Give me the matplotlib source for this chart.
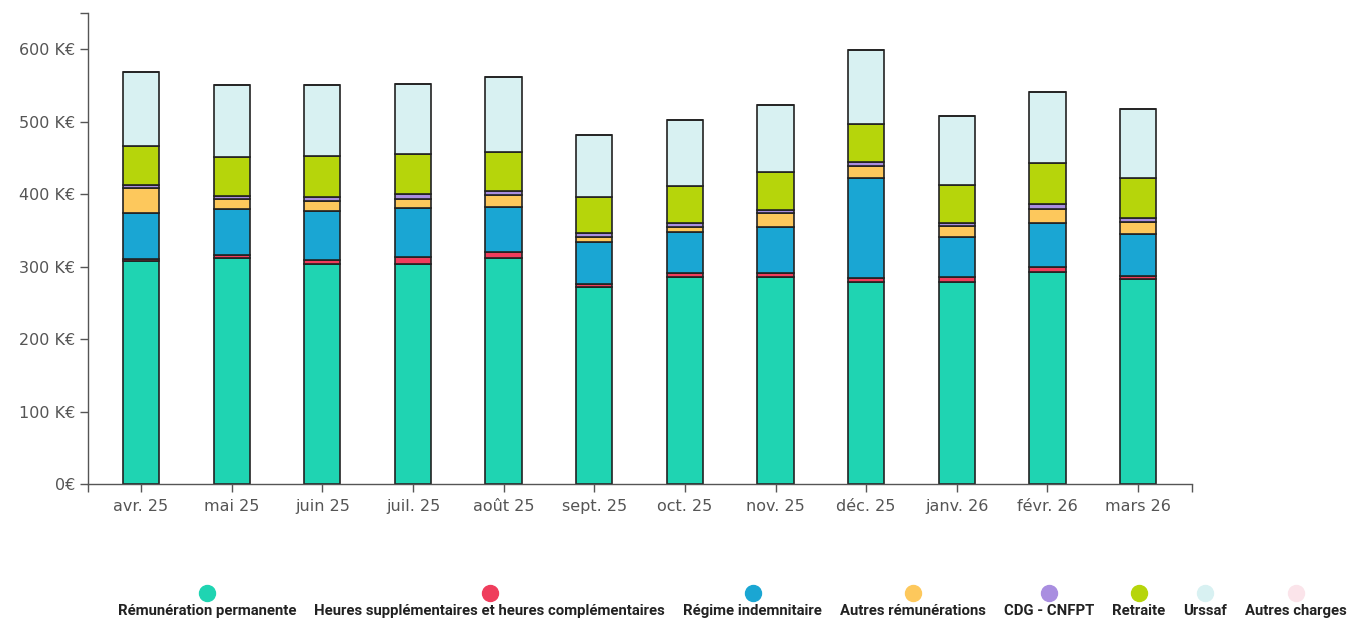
"""
Masse salariale mensuelle par nature de charge (barres empilées)
"""

import matplotlib
matplotlib.use('Agg')
import matplotlib.pyplot as plt
from matplotlib.lines import Line2D
import numpy as np

# mois affichés
MOIS = ['avr. 25', 'mai 25', 'juin 25', 'juil. 25', 'août 25', 'sept. 25',
        'oct. 25', 'nov. 25', 'déc. 25', 'janv. 26', 'févr. 26', 'mars 26']

# valeurs en K€
remuneration_permanente = [307.6, 311.7, 303.9, 303.0, 312.1, 272.2, 286.0, 286.0, 279.0, 279.0, 292.4, 282.3]
heures_supp = [2.7, 4.2, 5.1, 9.7, 8.3, 3.2, 4.6, 5.4, 5.6, 6.1, 6.5, 4.6]
regime_indemnitaire = [63.5, 63.4, 68.0, 68.0, 62.1, 58.8, 57.4, 62.6, 137.9, 56.0, 61.5, 57.9]
autres_remunerations = [34.5, 13.4, 13.8, 13.3, 15.7, 6.1, 6.9, 19.4, 16.5, 14.8, 19.8, 16.2]
cdg_cnfpt = [5.0, 5.0, 5.5, 5.6, 5.9, 5.5, 5.5, 4.5, 5.6, 4.5, 6.0, 5.5]
retraite = [53.8, 53.8, 56.5, 55.2, 54.2, 50.5, 50.6, 52.9, 52.9, 52.0, 57.0, 56.0]
urssaf = [102.0, 98.8, 97.5, 97.9, 103.7, 86.0, 91.1, 92.0, 101.1, 95.6, 97.9, 95.7]
autres_charges = [0, 0, 0, 0, 0, 0, 0, 0, 0, 0, 0, 0]

SERIES = [
    ('Rémunération permanente', remuneration_permanente, '#1fd4b2'),
    ('Heures supplémentaires et heures complémentaires', heures_supp, '#ef3d5c'),
    ('Régime indemnitaire', regime_indemnitaire, '#1aa6d3'),
    ('Autres rémunérations', autres_remunerations, '#fdc85c'),
    ('CDG - CNFPT', cdg_cnfpt, '#a98ee0'),
    ('Retraite', retraite, '#b6d50b'),
    ('Urssaf', urssaf, '#d8f1f2'),
    ('Autres charges', autres_charges, '#fbe4ea'),
]

W, H = 1359, 622


def main():
    fig = plt.figure(figsize=(W / 100, H / 100), dpi=100)
    ax = fig.add_axes([88 / W, 1 - 484 / H, (1192 - 88) / W, (484 - 13) / H])

    x = np.arange(len(MOIS))
    bottom = np.zeros(len(MOIS))
    for name, vals, color in SERIES:
        vals = np.array(vals, dtype=float)
        ax.bar(x, vals, width=0.4, bottom=bottom, color=color,
               edgecolor='#222222', linewidth=1.2, zorder=2)
        bottom += vals

    ax.set_ylim(0, 650)
    ax.set_xlim(-0.585, len(MOIS) - 1 + 0.595)
    ax.set_yticks(range(0, 601, 100))
    ax.set_yticklabels(['0€'] + [f'{v} K€' for v in range(100, 601, 100)])
    ax.set_xticks(x)
    ax.set_xticklabels(MOIS)
    # ticks de bord façon axe d3
    ax.set_yticks([650], minor=True)
    ax.set_xticks([-0.585, len(MOIS) - 1 + 0.595], minor=True)

    for s in ['top', 'right']:
        ax.spines[s].set_visible(False)
    for s in ['left', 'bottom']:
        ax.spines[s].set_color('#555555')
        ax.spines[s].set_linewidth(1.0)
    ax.tick_params(which='both', length=6, width=1.0, color='#555555',
                   labelcolor='#555555', labelsize=11.5)
    ax.tick_params(axis='y', pad=3)
    ax.tick_params(axis='x', pad=5)

    # légende manuelle : pastille au-dessus du libellé
    renderer = fig.canvas.get_renderer()
    xpos = 118
    gap = 18
    for name, vals, color in SERIES:
        t = fig.text(xpos / W, 1 - 611 / H, name, ha='left', va='center',
                     fontsize=10.75, fontweight='bold', family='Roboto', color='#222222')
        bb = t.get_window_extent(renderer=renderer)
        cx = (bb.x0 + bb.x1) / 2
        fig.add_artist(Line2D([cx / W], [1 - 593 / H], marker='o', markersize=11.5,
                              color=color, linestyle='none', transform=fig.transFigure))
        xpos = bb.x1 + gap

    fig.savefig('out.png', dpi=100)
    plt.close(fig)


if __name__ == "__main__":
    main()
